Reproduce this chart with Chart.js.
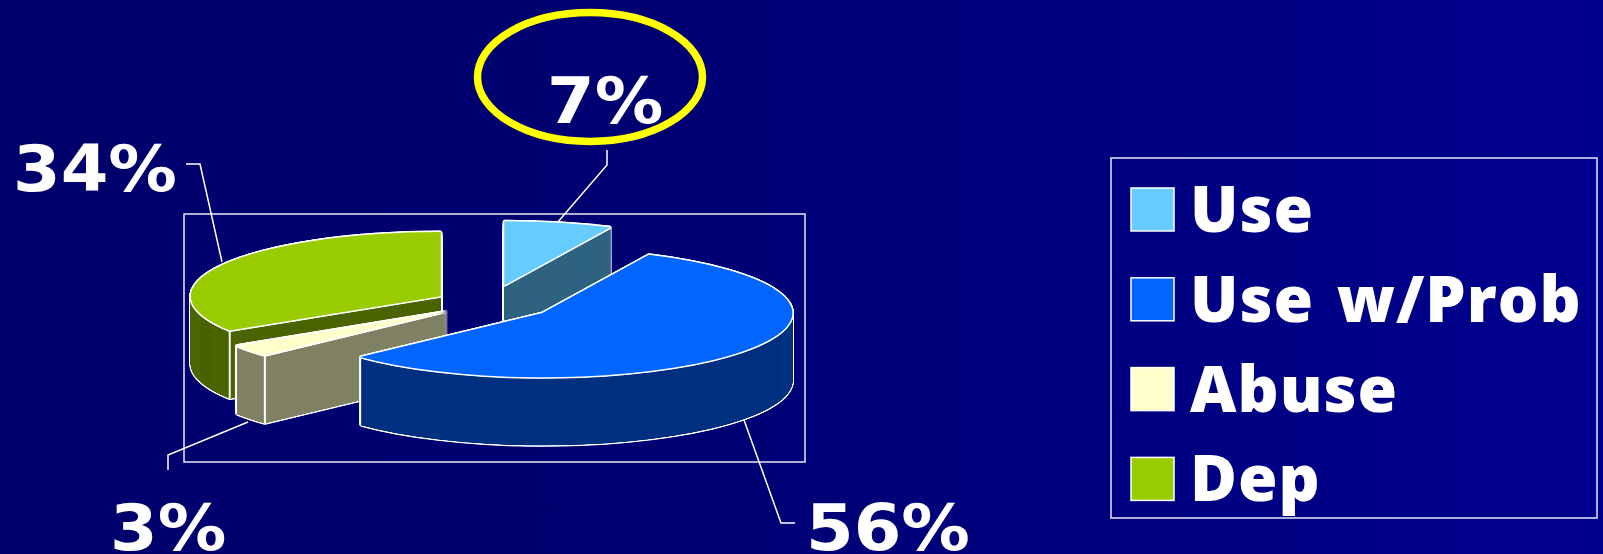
<!DOCTYPE html>
<html lang="en">
  <head>
    <meta charset="UTF-8" />
    <title>Use, Abuse and Dependence</title>
    <script src="https://cdn.jsdelivr.net/npm/chart.js@4"></script>
    <style>
      html, body { margin: 0; padding: 0; overflow: hidden; }
      body { background: linear-gradient(90deg, #00006c 0%, #000072 40%, #00008e 100%); }
      canvas { display: block; }
    </style>
  </head>
  <body>
    <canvas id="myChart" width="1603" height="554"></canvas>

    <script>
      const categories = ['Use', 'Use w/Prob', 'Abuse', 'Dep'];
      const percents = [7, 56, 3, 34];

      const faceColors = ['#66ccff', '#0066ff', '#ffffcc', '#99cc00'];
      const wallColors = ['#336680', '#003380', '#808066', '#4d6600'];

      // how far each slice is pulled out of the pie, along its middle angle
      const explode = [70, 66, 53, 55];
      // back to front
      const paintOrder = [0, 3, 2, 1];

      const pie = { x: 489, y: 303, radius: 250, tilt: 0.257, depth: 68 };

      // text anchor and leader line for each percent label
      const callouts = [
        { x: 547, y: 123, line: [[607, 150], [607, 165], [557, 223]] },
        { x: 806, y: 550, line: [[795, 523], [781, 523], [744, 420]] },
        { x: 110, y: 550, line: [[168, 470], [168, 455], [248, 422]] },
        { x: 13, y: 191, line: [[186, 164], [200, 164], [222, 262]] }
      ];

      const around = [[1, 0], [-1, 0], [0, 1], [0, -1], [0.7, 0.7], [-0.7, 0.7], [0.7, -0.7], [-0.7, -0.7]];

      function sliceOrigin(arc, i) {
        const mid = (arc.startAngle + arc.endAngle) / 2;
        return {
          x: pie.x + Math.cos(mid) * explode[i],
          y: pie.y + Math.sin(mid) * explode[i] * pie.tilt
        };
      }

      // draws the library's arc squashed into an ellipse
      function paintArc(ctx, arc, origin, dx, dy, color) {
        const saved = arc.options;
        arc.options = { ...saved, backgroundColor: color, borderWidth: 0 };
        ctx.save();
        ctx.translate(origin.x + dx, origin.y + dy);
        ctx.scale(1, pie.tilt);
        ctx.translate(-arc.x, -arc.y);
        arc.draw(ctx);
        ctx.restore();
        arc.options = saved;
      }

      const pie3d = {
        id: 'pie3d',
        beforeDatasetDraw(chart, args) {
          const { ctx } = chart;
          const arcs = args.meta.data;
          const w = 1.5;

          // frame behind the pie
          ctx.strokeStyle = '#e8e8f4';
          ctx.lineWidth = 1.5;
          ctx.strokeRect(184, 214, 621, 248);

          paintOrder.forEach(i => {
            const arc = arcs[i];
            const origin = sliceOrigin(arc, i);

            // walls: white silhouette first, then the dark stack on top
            for (let d = pie.depth; d >= 0; d--) {
              around.forEach(a => paintArc(ctx, arc, origin, a[0] * w, d + a[1] * w, '#ffffff'));
            }
            // fine steps, so thin slice tips fill in solid
            for (let d = pie.depth; d >= 0; d -= 0.1) {
              paintArc(ctx, arc, origin, 0, d, wallColors[i]);
            }

            // vertical edges on the front rim
            ctx.strokeStyle = '#ffffff';
            ctx.lineWidth = 2;
            [arc.startAngle, arc.endAngle].forEach(angle => {
              if (Math.sin(angle) <= 0) return;
              const rimX = origin.x + Math.cos(angle) * pie.radius;
              const rimY = origin.y + Math.sin(angle) * pie.radius * pie.tilt;
              ctx.beginPath();
              ctx.moveTo(rimX, rimY);
              ctx.lineTo(rimX, rimY + pie.depth);
              ctx.stroke();
            });

            // top face
            around.forEach(a => paintArc(ctx, arc, origin, a[0] * w, a[1] * w, '#ffffff'));
            paintArc(ctx, arc, origin, 0, 0, faceColors[i]);
          });
          return false;
        },
        afterDraw(chart) {
          const { ctx } = chart;

          // leader lines
          ctx.strokeStyle = '#ffffff';
          ctx.lineWidth = 1.5;
          callouts.forEach(c => {
            ctx.beginPath();
            c.line.forEach((p, n) => (n ? ctx.lineTo(p[0], p[1]) : ctx.moveTo(p[0], p[1])));
            ctx.stroke();
          });

          // yellow ring round the first label
          ctx.strokeStyle = '#ffff00';
          ctx.lineWidth = 7.5;
          ctx.beginPath();
          ctx.ellipse(590, 77, 112.5, 64.5, 0, 0, Math.PI * 2);
          ctx.stroke();

          // percent labels, stretched a little for the wide % sign
          ctx.font = 'bold 64px "DejaVu Sans"';
          ctx.fillStyle = '#ffffff';
          ctx.textAlign = 'left';
          ctx.textBaseline = 'alphabetic';
          callouts.forEach((c, i) => {
            ctx.save();
            ctx.translate(c.x, c.y);
            ctx.scale(1.07, 1);
            ctx.fillText(percents[i] + '%', 0, 0);
            ctx.restore();
          });

          // legend
          ctx.strokeStyle = '#e8e8f4';
          ctx.lineWidth = 1.5;
          ctx.strokeRect(1111, 158, 486, 360);
          ctx.font = '800 64px "Open Sans"';
          ctx.letterSpacing = '1px';
          ctx.wordSpacing = '5px';
          categories.forEach((name, i) => {
            const top = 188 + i * 89.8;
            ctx.fillStyle = faceColors[i];
            ctx.fillRect(1131, top, 43, 43);
            ctx.strokeStyle = '#ffffff';
            ctx.strokeRect(1131, top, 43, 43);
            ctx.fillStyle = '#ffffff';
            ctx.fillText(name, 1190, top + 44);
          });
          ctx.letterSpacing = '0px';
          ctx.wordSpacing = '0px';
        }
      };

      new Chart(document.getElementById('myChart').getContext('2d'), {
        type: 'pie',
        data: {
          labels: categories,
          datasets: [{ data: percents, backgroundColor: faceColors, borderWidth: 0 }]
        },
        options: {
          responsive: false,
          animation: false,
          events: [],
          radius: pie.radius,
          plugins: { legend: { display: false }, tooltip: { enabled: false } }
        },
        plugins: [pie3d]
      });
    </script>
  </body>
</html>
